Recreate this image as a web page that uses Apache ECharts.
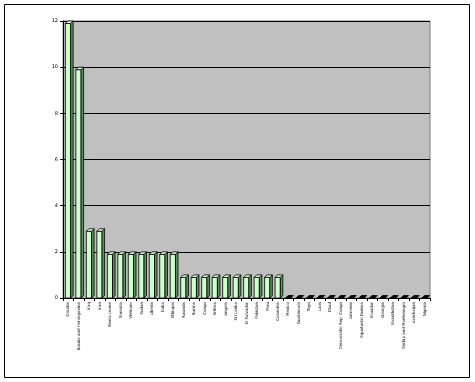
<!DOCTYPE html>
<html>
<head>
    <meta charset="utf-8">
    <title>3D columns</title>
    <script type="text/javascript" src="https://cdn.jsdelivr.net/npm/echarts@6/dist/echarts.min.js"></script>
    <style>html,body{margin:0;padding:0;background:#fff;}</style>
</head>
<body>
<div id="main" style="width:475px;height:382px;"></div>
<script type="text/javascript">
    // categories (tiny rotated labels)
    var countries = [
        'Croatia', 'Bosnia and Herzegovina', 'Iraq', 'Iran', 'Sierra Leone', 'Somalia',
        'Vietnam', 'Sudan', 'Liberia', 'Cuba', 'Ethiopia', 'Rwanda', 'Burma', 'Congo',
        'Eritrea', 'Angola', 'Sri Lanka', 'El Salvador', 'Pakistan', 'Peru', 'Colombia',
        'Mexico', 'Guatemala', 'Togo', 'Laos', 'Chad', 'Democratic Rep. Congo', 'Armenia',
        'Equatorial Guinea', 'Ecuador', 'Georgia', 'Kazakhstan', 'Serbia and Montenegro',
        'Azerbaijan', 'Nigeria'
    ];
    var counts = [12, 10, 3, 3, 2, 2, 2, 2, 2, 2, 2, 1, 1, 1, 1, 1, 1, 1, 1, 1, 1,
        0, 0, 0, 0, 0, 0, 0, 0, 0, 0, 0, 0, 0, 0];
    var yTicks = [0, 2, 4, 6, 8, 10, 12];

    var chart = echarts.init(document.getElementById('main'));

    //3D-ish column: front face, top face, side face
    function renderColumn(params, api) {
        var idx = api.value(0), v = api.value(1);
        var top = api.coord([idx, v]);
        var base = api.coord([idx, 0]);
        var bw = api.size([1, 0])[0];
        var w = bw * 0.5, d = 2.5;
        var x0 = top[0] - w / 2 - d / 2 + 1;
        var ty = top[1] + d, by = base[1];
        var line = {stroke: '#000', lineWidth: 0.8};
        var kids = [];
        if (v > 0) {
            kids.push({type: 'rect', shape: {x: x0, y: ty, width: w, height: by - ty},
                style: Object.assign({fill: '#ccffcc'}, line)});
            kids.push({type: 'polygon', shape: {points: [[x0 + w, ty], [x0 + w + d, ty - d], [x0 + w + d, by - d], [x0 + w, by]]},
                style: Object.assign({fill: '#5f8f5f'}, line)});
            kids.push({type: 'polygon', shape: {points: [[x0, ty], [x0 + d, ty - d], [x0 + w + d, ty - d], [x0 + w, ty]]},
                style: Object.assign({fill: '#e4ffe4'}, line)});
        } else {
            kids.push({type: 'polygon', shape: {points: [[x0, by], [x0 + d, by - d], [x0 + w + d, by - d], [x0 + w, by]]},
                style: {fill: '#000', stroke: '#000', lineWidth: 0.8}});
        }
        return {type: 'group', children: kids};
    }

    var option = {
        backgroundColor: '#fff',
        animation: false,
        graphic: [{
            type: 'rect', shape: {x: 4.5, y: 4.5, width: 465, height: 373},
            style: {fill: 'none', stroke: '#000', lineWidth: 1}, z: -10
        }],
        grid: {
            left: 63, right: 45, top: 21, bottom: 84,
            show: true, backgroundColor: '#c0c0c0', borderColor: '#808080', borderWidth: 1
        },
        xAxis: {
            type: 'category',
            data: countries,
            axisLine: {lineStyle: {color: '#000', width: 1}},
            axisTick: {show: true, length: 3, lineStyle: {color: '#000'}},
            axisLabel: {
                interval: 0, rotate: 90, fontSize: 4, color: '#000',
                fontFamily: 'DejaVu Sans', margin: 4
            }
        },
        yAxis: {
            type: 'value',
            min: 0, max: 12, interval: 2,
            axisLine: {show: true, lineStyle: {color: '#000', width: 1}},
            axisTick: {show: true, length: 3, lineStyle: {color: '#000'}},
            axisLabel: {
                fontSize: 5, color: '#000', fontFamily: 'DejaVu Sans', margin: 5,
                formatter: function (v) { return yTicks.indexOf(v) >= 0 ? String(v) : ''; }
            },
            splitLine: {show: true, lineStyle: {color: '#000', width: 1}}
        },
        series: [{
            type: 'custom',
            renderItem: renderColumn,
            data: counts.map(function (c, i) { return [i, c]; }),
            encode: {x: 0, y: 1}
        }]
    };
    chart.setOption(option);
</script>
</body>
</html>
